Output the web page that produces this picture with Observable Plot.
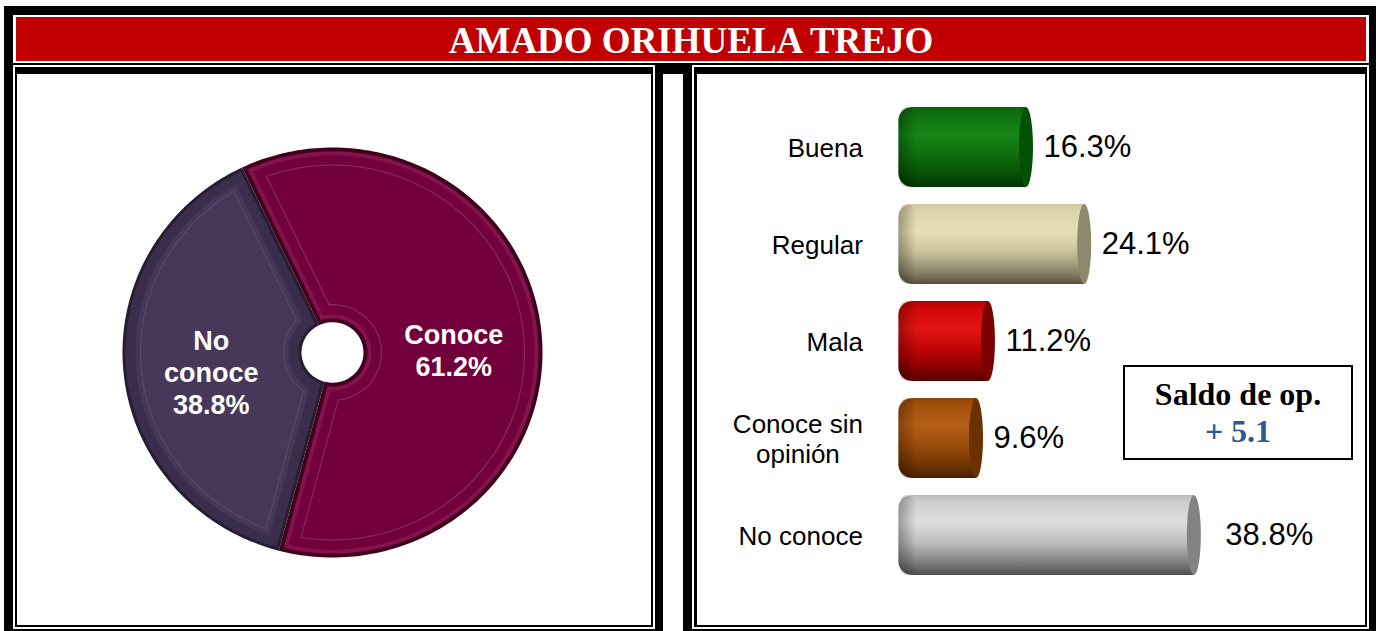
<!DOCTYPE html>
<html>
<head>
<meta charset="utf-8">
<script src="https://cdn.jsdelivr.net/npm/d3@7"></script>
<script src="https://cdn.jsdelivr.net/npm/@observablehq/plot@0.6"></script>
<style>
html, body { margin: 0; padding: 0; background: #fff; width: 1376px; height: 631px; overflow: hidden; }
.abs { position: absolute; box-sizing: border-box; }
#frame { left: 4px; top: 6px; width: 1372px; height: 625px; background: #000; }
#gap { left: 663px; top: 74px; width: 20px; height: 557px; background: #fff; }
#titleOuter { left: 13px; top: 15px; width: 1356px; height: 48px; background: #fff; }
#title { left: 16px; top: 17px; width: 1350px; height: 44px; background: #c00000; color: #fff;
  font: bold 37px "Liberation Serif", "Times New Roman", serif; text-align: center; line-height: 47px; white-space: nowrap; }
.w { background: #fff; }
.b { background: #000; }
#saldo { left: 1123px; top: 365px; width: 230px; height: 95px; border: 2px solid #000; background: #fff;
  font: bold 32px "Liberation Serif", "Times New Roman", serif; text-align: center; line-height: 37px; padding-top: 8.7px; color: #000; white-space: nowrap; }
#saldo .v { color: #2f5a8e; }
#pie { left: 17px; top: 74px; }
#bars { left: 697px; top: 74px; }
</style>
</head>
<body>
<div class="abs" id="frame"></div>
<div class="abs" id="gap"></div>
<div class="abs" id="titleOuter"></div>
<div class="abs" id="title"></div>
<!-- left panel -->
<div class="abs w" style="left:13px;top:65px;width:642px;height:564px;"></div>
<div class="abs b" style="left:15px;top:67px;width:638px;height:560px;"></div>
<div class="abs w" style="left:17px;top:74px;width:634px;height:551px;"></div>
<!-- right panel -->
<div class="abs w" style="left:692px;top:65px;width:677px;height:564px;"></div>
<div class="abs b" style="left:694px;top:67px;width:673px;height:560px;"></div>
<div class="abs w" style="left:697px;top:74px;width:668px;height:551px;"></div>
<div class="abs" id="pie"></div>
<div class="abs" id="bars"></div>
<div class="abs" id="saldo"><div class="t"></div><div class="v"></div></div>
<script>
// ---------- data ----------
const chartTitle = "AMADO ORIHUELA TREJO";
const pieCategories = ["Conoce", "No conoce"];
const pieValues = [61.2, 38.8];
const barCategories = ["Buena", "Regular", "Mala", "Conoce sin opinión", "No conoce"];
const barTickLabels = ["Buena", "Regular", "Mala", "Conoce sin\nopinión", "No conoce"];
const barValues = [16.3, 24.1, 11.2, 9.6, 38.8];
const saldoLabel = "Saldo de op.";
const saldoValue = "+ 5.1";

// ---------- styles ----------
const FONT = "'Liberation Sans', Arial, Helvetica, sans-serif";
const piePalette = {
  "Conoce":    { edge: "#40001c", hi: "#84124c", main: "#72013b", line: "#862a5b", inHi: 4, inMain: 8 },
  "No conoce": { edge: "#261d32", hi: "#3a2e4c", main: "#47385a", line: "#58496c", inHi: 3, inMain: 13 }
};
const barStyles = [
  { stops: [[0,"#0b5f0b"],[0.1,"#0f720f"],[0.35,"#178517"],[0.6,"#0e6e0e"],[0.85,"#055005"],[1,"#003300"]], cap: "#045004" },
  { stops: [[0,"#cfc79d"],[0.1,"#dcd5ab"],[0.35,"#e6dfb6"],[0.6,"#c9c29c"],[0.85,"#8a8468"],[1,"#545140"]], cap: "#8e896d" },
  { stops: [[0,"#b50000"],[0.1,"#d20808"],[0.35,"#e21414"],[0.6,"#c00404"],[0.85,"#850000"],[1,"#560000"]], cap: "#7a0000" },
  { stops: [[0,"#8f4305"],[0.1,"#a5520c"],[0.35,"#b45d18"],[0.6,"#9a4c0a"],[0.85,"#6e3302"],[1,"#4a2000"]], cap: "#6b3100" },
  { stops: [[0,"#bdbdbd"],[0.1,"#cfcfcf"],[0.35,"#dedede"],[0.6,"#bcbcbc"],[0.85,"#7d7d7d"],[1,"#4f4f4f"]], cap: "#838383" }
];

document.getElementById("title").textContent = chartTitle;
document.querySelector("#saldo .t").textContent = saldoLabel;
document.querySelector("#saldo .v").textContent = saldoValue;

function addDefs(svg, grads) {
  const defs = d3.select(svg).insert("defs", ":first-child");
  for (const g of grads) {
    const lg = defs.append("linearGradient").attr("id", g.id)
      .attr("x1", g.x1 ?? 0).attr("y1", g.y1 ?? 0).attr("x2", g.x2 ?? 0).attr("y2", g.y2 ?? 1);
    g.stops.forEach(([o, c, op]) => lg.append("stop").attr("offset", o).attr("stop-color", c).attr("stop-opacity", op ?? 1));
  }
}

// ---------- donut ----------
const deg = Math.PI / 180;
const START = -25.5 * deg;
const arcs = d3.pie().sort(null).startAngle(START).endAngle(START + 2 * Math.PI)(pieValues);
const RPX = 210;            // pixel radius (x)
const HOLE = 31 / RPX;      // hole radius, relative

function sector(a0, a1, insetPx, key, color, closed) {
  const d = insetPx / RPX;
  const ro = 1 - d, ri = HOLE + d;
  const so = Math.asin(Math.min(1, d / ro)), si = Math.asin(Math.min(1, d / ri));
  const pts = [];
  const n = 180, m = 40;
  for (let k = 0; k <= n; k++) {
    const a = (a0 + so) + ((a1 - so) - (a0 + so)) * k / n;
    pts.push({ x: ro * Math.sin(a), y: ro * Math.cos(a), key, color });
  }
  for (let k = 0; k <= m; k++) {
    const a = (a1 - si) + ((a0 + si) - (a1 - si)) * k / m;
    pts.push({ x: ri * Math.sin(a), y: ri * Math.cos(a), key, color });
  }
  if (closed) pts.push({ ...pts[0] });
  return pts;
}
function layerData(insetKey, prop, closed, fixedInset) {
  return arcs.flatMap((p, i) => {
    const pal = piePalette[pieCategories[i]];
    const inset = fixedInset != null ? fixedInset : (insetKey ? pal[insetKey] : 0);
    return sector(p.startAngle, p.endAngle, inset, pieCategories[i] + prop, pal[prop], closed);
  });
}
const pieLabelData = arcs.map((p, i) => {
  const mid = (p.startAngle + p.endAngle) / 2, rc = 0.58;
  return { x: rc * Math.sin(mid), y: rc * Math.cos(mid),
    text: pieCategories[i].replace(" ", "\n") + "\n" + pieValues[i].toFixed(1) + "%" };
});

const pieChart = Plot.plot({
  width: 634, height: 551,
  marginLeft: 105, marginRight: 109, marginTop: 73, marginBottom: 68,
  x: { domain: [-1, 1], axis: null },
  y: { domain: [-1, 1], axis: null },
  color: { type: "identity" },
  style: { fontFamily: FONT, background: "transparent", overflow: "visible" },
  marks: [
    Plot.line(layerData(null, "edge"), { x: "x", y: "y", z: "key", fill: "color", stroke: "none" }),
    Plot.line(layerData("inHi", "hi"), { x: "x", y: "y", z: "key", fill: "color", stroke: "none" }),
    Plot.line(layerData("inMain", "main"), { x: "x", y: "y", z: "key", fill: "color", stroke: "none" }),
    Plot.line(layerData(null, "line", true, 18), { x: "x", y: "y", z: "key", stroke: "color", strokeWidth: 1.2, fill: "none" }),
    Plot.text(pieLabelData, { x: "x", y: "y", text: "text", fill: "white", fontSize: 27, fontWeight: "bold",
      lineHeight: 1.18, dy: 8, fontFamily: FONT })
  ]
});
document.getElementById("pie").appendChild(pieChart);

// ---------- cylinders ----------
const rows = barCategories.map((c, i) => ({
  cat: c, label: barTickLabels[i], value: barValues[i],
  grad: `url(#cyl${i})`, cap: barStyles[i].cap
}));
const single = rows.filter(d => !d.label.includes("\n"));
const multi = rows.filter(d => d.label.includes("\n"));

const barChart = Plot.plot({
  width: 668, height: 551,
  marginLeft: 207.4, marginRight: 162.2, marginTop: 22.25, marginBottom: 39.3,
  x: { domain: [0, 40], axis: null },
  y: { domain: barCategories, axis: null, paddingInner: 0.18, paddingOuter: 0.1 },
  color: { type: "identity" },
  style: { fontFamily: FONT, background: "transparent", overflow: "visible" },
  marks: [
    Plot.barX(rows, { x1: d => 0, x2: "value", y: "cat", fill: "grad", insetLeft: -6, rx: 14 }),
    Plot.barX(rows, { x1: d => 0, x2: "value", y: "cat", fill: "grad", insetLeft: 14 }),
    Plot.barX(rows, { x1: d => 0, x2: d => 0, y: "cat", fill: "url(#shadeL)", insetLeft: -6, insetRight: -12, rx: 14 }),
    Plot.barX(rows, { x1: "value", x2: "value", y: "cat", fill: "cap", insetLeft: -7, insetRight: -7, rx: 7, ry: 40 }),
    Plot.text(single, { x: d => 0, y: "cat", text: "label", textAnchor: "end", dx: -42, fontSize: 26,
      lineHeight: 1.15, fill: "black", fontFamily: FONT }),
    Plot.text(multi, { x: d => 0, y: "cat", text: "label", textAnchor: "middle", dx: -107, fontSize: 26,
      lineHeight: 1.15, fill: "black", fontFamily: FONT }),
    Plot.text(rows.filter(d => d.cat !== "No conoce"), { x: "value", y: "cat", text: d => d.value.toFixed(1) + "%",
      textAnchor: "start", dx: 17, fontSize: 31, fill: "black", fontFamily: FONT }),
    Plot.text(rows.filter(d => d.cat === "No conoce"), { x: "value", y: "cat", text: d => d.value.toFixed(1) + "%",
      textAnchor: "start", dx: 31, fontSize: 31, fill: "black", fontFamily: FONT })
  ]
});
addDefs(barChart, [
  ...barStyles.map((s, i) => ({ id: `cyl${i}`, stops: s.stops })),
  { id: "shadeL", x1: 0, y1: 0, x2: 1, y2: 0, stops: [[0, "#000", 0.3], [1, "#000", 0]] }
]);
document.getElementById("bars").appendChild(barChart);
</script>
</body>
</html>
